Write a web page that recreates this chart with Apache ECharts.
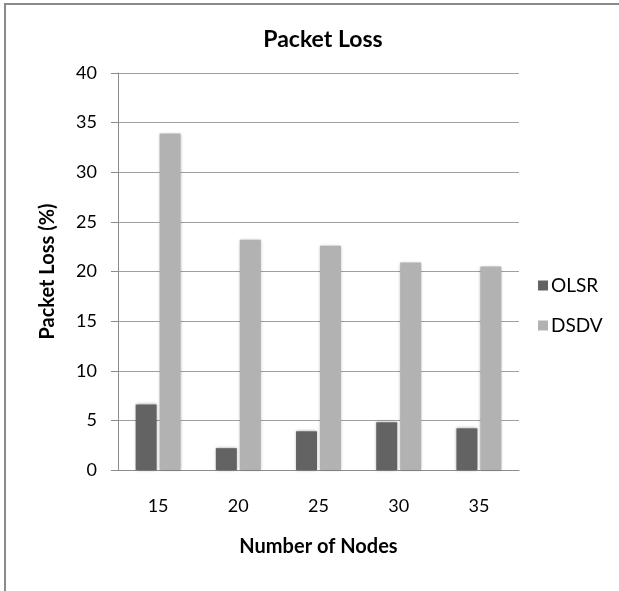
<!DOCTYPE html>
<html>
<head>
<meta charset="utf-8">
<script src="https://cdn.jsdelivr.net/npm/echarts@6/dist/echarts.min.js"></script>
<style>
html,body{margin:0;padding:0;background:#fff;}
#chart{width:619px;height:591px;}
</style>
</head>
<body>
<div id="chart"></div>
<script>
const categories = ['15', '20', '25', '30', '35'];
const olsr = [6.6, 2.2, 3.9, 4.8, 4.2];
const dsdv = [33.9, 23.2, 22.6, 20.9, 20.5];
const seriesNames = ['OLSR', 'DSDV'];
const yTicks = {min: 0, max: 40, interval: 5};

const FONT = 'Lato, "Open Sans", sans-serif';
const chart = echarts.init(document.getElementById('chart'), null, {renderer: 'canvas'});
const barStyle = (color) => ({
  color: color,
  shadowBlur: 3,
  shadowColor: 'rgba(0,0,0,0.35)',
  shadowOffsetX: 0,
  shadowOffsetY: 0
});
chart.setOption({
  animation: false,
  backgroundColor: '#fff',
  title: {
    text: 'Packet Loss',
    left: 318,
    top: 23,
    textAlign: 'center',
    textStyle: {fontFamily: FONT, fontWeight: 'bold', fontSize: 23, color: '#000'}
  },
  graphic: [{
    type: 'rect',
    shape: {x: 5, y: 4, width: 700, height: 700},
    style: {fill: 'none', stroke: '#8a8a8a', lineWidth: 2},
    silent: true
  }],
  legend: {
    orient: 'vertical',
    left: 533,
    top: 271,
    itemWidth: 10,
    itemHeight: 10,
    itemGap: 21,
    icon: 'rect',
    textStyle: {fontFamily: FONT, fontSize: 19, color: '#000', padding: [0, 0, 0, -2]},
    data: seriesNames
  },
  grid: {left: 118, right: 100, top: 73, bottom: 121, containLabel: false},
  xAxis: {
    type: 'category',
    data: categories,
    name: 'Number of Nodes',
    nameLocation: 'middle',
    nameGap: 67,
    nameTextStyle: {fontFamily: FONT, fontWeight: 'bold', fontSize: 20, color: '#000'},
    axisLine: {lineStyle: {color: '#8c8c8c', width: 1}},
    axisTick: {show: false},
    axisLabel: {fontFamily: FONT, fontSize: 18, color: '#000', margin: 27}
  },
  yAxis: {
    type: 'value',
    min: yTicks.min,
    max: yTicks.max,
    interval: yTicks.interval,
    name: 'Packet Loss (%)',
    nameLocation: 'middle',
    nameGap: 60,
    nameTextStyle: {fontFamily: FONT, fontWeight: 'bold', fontSize: 20, color: '#000'},
    axisLine: {show: true, lineStyle: {color: '#8c8c8c', width: 1}},
    axisTick: {show: true, length: 7, inside: false, lineStyle: {color: '#8c8c8c'}},
    splitLine: {lineStyle: {color: '#a0a0a0', width: 1}},
    axisLabel: {fontFamily: FONT, fontSize: 18, color: '#000', margin: 21}
  },
  series: [
    {name: seriesNames[0], type: 'bar', data: olsr, barWidth: 21, barGap: '14%', itemStyle: barStyle('#636363')},
    {name: seriesNames[1], type: 'bar', data: dsdv, barWidth: 21, barGap: '14%', itemStyle: barStyle('#b2b2b2')}
  ]
});
</script>
</body>
</html>
